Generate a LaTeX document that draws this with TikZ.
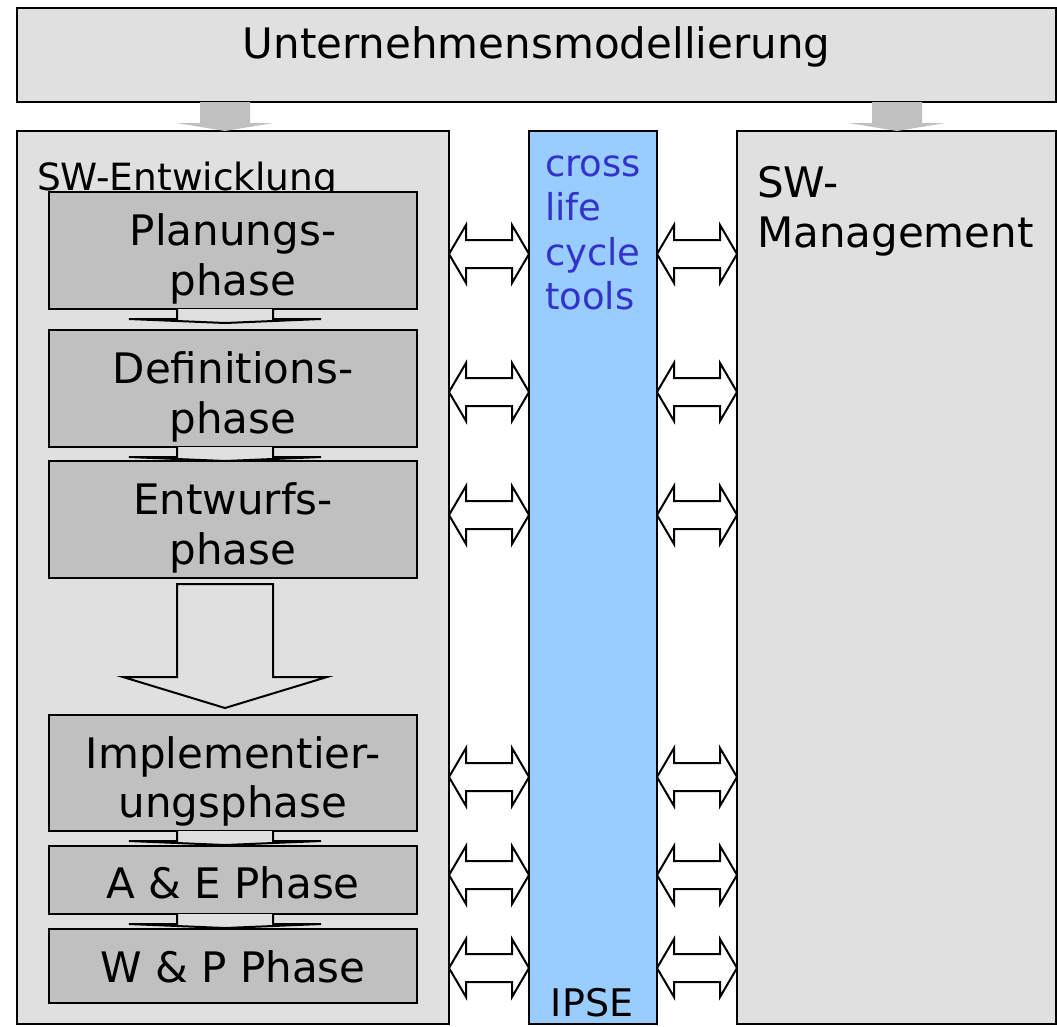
\documentclass[tikz,border=0pt]{standalone}
\usepackage{fontspec}
\setmainfont{DejaVu Sans}
\usetikzlibrary{calc}

\definecolor{panel}{HTML}{E0E0E0}
\definecolor{phasefill}{HTML}{C0C0C0}
\definecolor{feed}{HTML}{C0C0C0}
\definecolor{toolbar}{HTML}{99CCFF}
\definecolor{tooltext}{HTML}{3333CC}

% double-headed block arrow between two columns at height #3
\newcommand\linkpair[3]{%
  \draw[linkarr] (#1.east |- 0,#3) -- ++(17,-29) -- ++(0,15)
    -- ($(#2.west |- 0,#3)+(-17,-14)$) -- ++(0,-15) -- (#2.west |- 0,#3)
    -- ++(-17,29) -- ++(0,-15) -- ($(#1.east |- 0,#3)+(17,14)$) -- ++(0,15) -- cycle;}

% short flat block arrow below a phase box, on the flow axis
\newcommand\phaseflow[1]{%
  \draw[flowarr] ($(axis |- #1.south)+(-48,0)$) -- ++(0,10) -- ++(-48,0)
    -- ($(axis |- #1.south)+(0,14)$) -- ($(axis |- #1.south)+(96,10)$) -- ++(-48,0)
    -- ($(axis |- #1.south)+(48,0)$);}

\begin{document}
\begin{tikzpicture}[x=1pt,y=-1pt,
  every node/.style={outer sep=0pt, inner sep=0pt},
  panelbox/.style={draw=black, line width=2pt, fill=panel, anchor=north west},
  phasebox/.style={draw=black, line width=2pt, fill=phasefill, anchor=north west,
    minimum width=368pt},
  bigtext/.style={font=\fontsize{42pt}{50pt}\selectfont, text=black},
  midtext/.style={font=\fontsize{37.5pt}{44pt}\selectfont, text=black},
  tooltxt/.style={font=\fontsize{37pt}{44pt}\selectfont, text=tooltext, anchor=base west},
  linkarr/.style={draw=black, line width=2pt, fill=white, line join=miter},
  flowarr/.style={draw=black, line width=2pt, fill=panel},
  feedarr/.style={fill=feed, draw=none}
]
\useasboundingbox (0,0) rectangle (1057,1026);
\coordinate (axis) at (225,0);

% frame boxes
\node[panelbox, minimum width=1039pt, minimum height=94pt] (top) at (17,8) {};
\node[panelbox, minimum width=432pt, minimum height=893pt] (dev) at (17,131) {};
\node[panelbox, minimum width=128pt, minimum height=893pt, fill=toolbar] (ipse) at (529,131) {};
\node[panelbox, minimum width=319pt, minimum height=893pt] (mgmt) at (737,131) {};

% feed arrows from the top box
\fill[feedarr] (200,102) -- (200,123) -- (177,123) -- (225,131) -- (273,123) -- (250,123) -- (250,102) -- cycle;
\fill[feedarr] (872,102) -- (872,123) -- (849,123) -- (897,131) -- (945,123) -- (922,123) -- (922,102) -- cycle;

% titles
\node[bigtext, anchor=base] (toptitle) at (536.5,58.3) {Unternehmensmodellierung};
\node[midtext, anchor=base west] (devtitle) at (37,190) {SW-Entwicklung};
\node[bigtext, anchor=base west] (mgmt1) at (757,197) {SW-};
\node[bigtext, anchor=base west] (mgmt2) at (757,247) {Management};
\node[tooltxt] (tool1) at (545,176) {cross};
\node[tooltxt] (tool2) at (545,220) {life};
\node[tooltxt] (tool3) at (545,265) {cycle};
\node[tooltxt] (tool4) at (545,309) {tools};
\node[font=\fontsize{38pt}{44pt}\selectfont, anchor=base] (ipsetext) at (592,1016) {IPSE};

% phase boxes
\node[phasebox, minimum height=117pt] (plan) at (49,192) {};
\node[phasebox, minimum height=117pt] (def) at (49,330) {};
\node[phasebox, minimum height=117pt] (ent) at (49,461) {};
\node[phasebox, minimum height=116pt] (impl) at (49,715) {};
\node[phasebox, minimum height=68pt] (ae) at (49,846) {};
\node[phasebox, minimum height=74pt] (wp) at (49,929) {};

% phase connectors
\phaseflow{plan}
\phaseflow{def}
\phaseflow{impl}
\phaseflow{ae}
\draw[flowarr] ($(axis |- ent.south)+(-48,6)$) -- ++(0,93) -- ++(-54,0)
  -- ($(axis |- impl.north)+(0,-7)$) -- ($(axis |- ent.south)+(102,99)$) -- ++(-54,0)
  -- ($(axis |- ent.south)+(48,6)$) -- cycle;

% phase labels
\node[bigtext, anchor=base] (plan1) at (233,245) {Planungs-};
\node[bigtext, anchor=base] (plan2) at (233,295) {phase};
\node[bigtext, anchor=base] (def1) at (233,383) {Definitions-};
\node[bigtext, anchor=base] (def2) at (233,433) {phase};
\node[bigtext, anchor=base] (ent1) at (233,514) {Entwurfs-};
\node[bigtext, anchor=base] (ent2) at (233,564) {phase};
\node[bigtext, anchor=base] (impl1) at (233,768) {Implementier-};
\node[bigtext, anchor=base] (impl2) at (233,817) {ungsphase};
\node[bigtext, anchor=base] (ae1) at (233,898) {A \& E Phase};
\node[bigtext, anchor=base] (wp1) at (233,982) {W \& P Phase};

% tool links
\foreach \yy in {254,392,515,777,875,968}{
  \linkpair{dev}{ipse}{\yy}
  \linkpair{ipse}{mgmt}{\yy}
}
\end{tikzpicture}
\end{document}
